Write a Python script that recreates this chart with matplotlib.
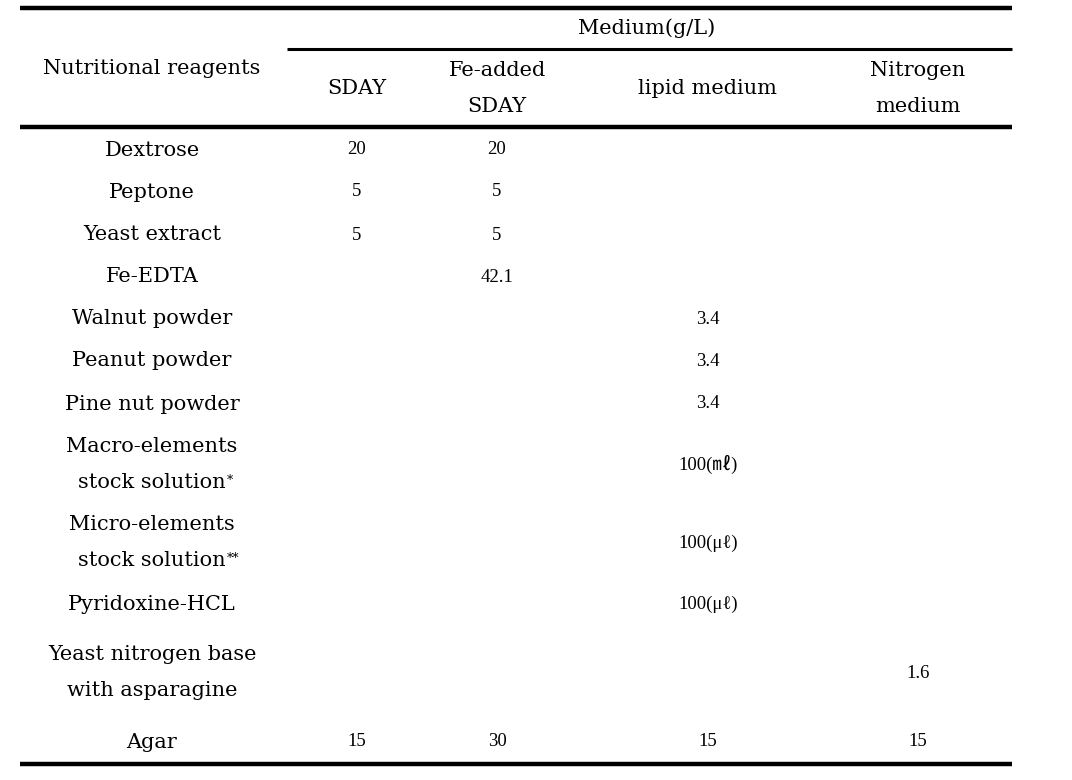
import matplotlib
matplotlib.use('Agg')
import matplotlib.pyplot as plt

# table content
title = 'Medium(g/L)'
row_header = 'Nutritional reagents'
columns = [['SDAY'], ['Fe-added', 'SDAY'], ['lipid medium'], ['Nitrogen', 'medium']]
reagents = [['Dextrose'], ['Peptone'], ['Yeast extract'], ['Fe-EDTA'], ['Walnut powder'],
            ['Peanut powder'], ['Pine nut powder'], ['Macro-elements', 'stock solution'],
            ['Micro-elements', 'stock solution'], ['Pyridoxine-HCL'],
            ['Yeast nitrogen base', 'with asparagine'], ['Agar']]
marks = ['', '', '', '', '', '', '', '*', '**', '', '', '']
sday = ['20', '5', '5', '', '', '', '', '', '', '', '', '15']
fe_sday = ['20', '5', '5', '42.1', '', '', '', '', '', '', '', '30']
lipid = ['', '', '', '', '3.4', '3.4', '3.4', '100(㎖)', '100(\u03bcℓ)', '100(\u03bcℓ)', '', '15']
nitrogen = ['', '', '', '', '', '', '', '', '', '', '1.6', '15']

# layout (pixels)
col_x = [152, 357, 497, 708, 918]
row_y = [150, 192, 235, 277, 319, 361, 404, 464, 543, 604, 673, 742]
gap = 36

fam = ['DejaVu Serif', 'Noto Sans CJK KR', 'DejaVu Sans']
fam_num = ['Liberation Serif', 'Noto Sans CJK KR', 'DejaVu Sans']
fs = 15
fs_num = 13.5

fig = plt.figure(figsize=(10.72, 7.8), dpi=100)
ax = fig.add_axes([0, 0, 1, 1])
ax.set_xlim(0, 1072)
ax.set_ylim(780, 0)
ax.axis('off')

# rules
ax.plot([20, 1012], [8, 8], color='black', lw=3.2, solid_capstyle='butt')
ax.plot([287, 1012], [49, 49], color='black', lw=2.2, solid_capstyle='butt')
ax.plot([20, 1012], [127, 127], color='black', lw=3.2, solid_capstyle='butt')
ax.plot([20, 1012], [764, 764], color='black', lw=3.2, solid_capstyle='butt')


def cell(x, y, lines, size, family):
    n = len(lines)
    out = []
    for k, s in enumerate(lines):
        yy = y + (k - (n - 1) / 2) * gap
        out.append(ax.text(x, yy, s, ha='center', va='center', fontsize=size,
                           family=family))
    return out


# header
ax.text(647, 28, title, ha='center', va='center', fontsize=fs, family=fam)
ax.text(col_x[0], 68, row_header, ha='center', va='center', fontsize=fs, family=fam)
for x, c in zip(col_x[1:], columns):
    cell(x, 89, c, fs, fam)

# body
values = [sday, fe_sday, lipid, nitrogen]
fig.canvas.draw()
r = fig.canvas.get_renderer()
inv = ax.transData.inverted()
for i, name in enumerate(reagents):
    y = row_y[i]
    txts = cell(col_x[0], y, name, fs, fam)
    if marks[i]:
        bb = txts[-1].get_window_extent(renderer=r)
        x1, y1 = inv.transform((bb.x1, bb.y1))
        ax.text(x1 + 1, y1 + 1, marks[i], ha='left', va='top', fontsize=9, family=fam)
    for x, col in zip(col_x[1:], values):
        if col[i]:
            ax.text(x, y, col[i], ha='center', va='center', fontsize=fs_num,
                    family=fam_num)

fig.savefig('out.png', dpi=100)
plt.close(fig)
